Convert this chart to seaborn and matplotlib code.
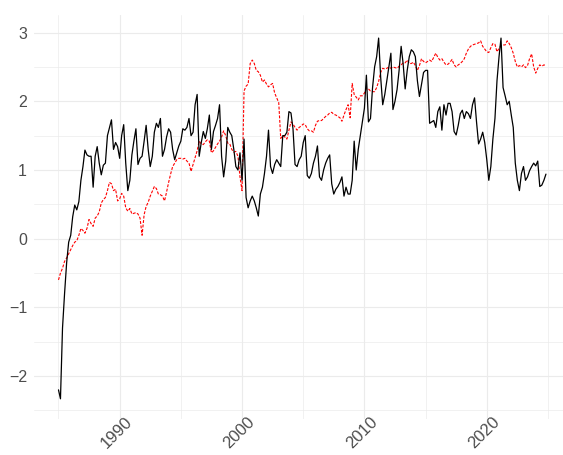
import matplotlib
matplotlib.use("Agg")
import matplotlib.dates as mdates
import matplotlib.pyplot as plt
import matplotlib.transforms as mtransforms
import numpy as np
import pandas as pd
import seaborn as sns
from matplotlib.ticker import MultipleLocator

# bimonthly observations, Jan 1985 .. Nov 2024
START = "1985-01-01"

black_values = [
    # 1985-1989
    -2.20, -2.33, -1.30, -0.80, -0.35, -0.05,
    0.05, 0.32, 0.49, 0.42, 0.54, 0.85,
    1.05, 1.29, 1.22, 1.20, 1.20, 0.75,
    1.20, 1.34, 1.10, 0.93, 1.07, 1.10,
    1.50, 1.61, 1.73, 1.30, 1.40, 1.34,
    # 1990-1994
    1.17, 1.50, 1.66, 1.10, 0.70, 0.85,
    1.22, 1.42, 1.60, 1.08, 1.17, 1.20,
    1.42, 1.65, 1.30, 1.05, 1.20, 1.55,
    1.68, 1.62, 1.75, 1.20, 1.30, 1.48,
    1.60, 1.55, 1.30, 1.15, 1.25, 1.35,
    # 1995-1999
    1.42, 1.60, 1.58, 1.62, 1.75, 1.50,
    1.55, 1.95, 2.10, 1.20, 1.40, 1.56,
    1.46, 1.60, 1.80, 1.30, 1.56, 1.65,
    1.75, 1.95, 1.20, 0.90, 1.13, 1.62,
    1.55, 1.50, 1.30, 1.05, 1.00, 1.25,
    # 2000-2004
    0.85, 1.45, 0.60, 0.45, 0.55, 0.62,
    0.55, 0.45, 0.33, 0.65, 0.75, 0.95,
    1.20, 1.58, 1.05, 0.95, 1.08, 1.15,
    1.10, 1.05, 1.50, 1.50, 1.55, 1.85,
    1.83, 1.60, 1.08, 1.05, 1.15, 1.20,
    # 2005-2009
    1.40, 1.50, 0.92, 0.88, 0.95, 1.10,
    1.20, 1.35, 0.90, 0.85, 1.00, 1.10,
    1.17, 1.22, 0.80, 0.65, 0.72, 0.76,
    0.82, 0.90, 0.62, 0.75, 0.65, 0.65,
    0.85, 1.42, 1.00, 1.30, 1.50, 1.70,
    # 2010-2014
    1.90, 2.38, 1.70, 1.75, 2.20, 2.50,
    2.65, 2.92, 2.35, 1.95, 2.10, 2.30,
    2.50, 2.70, 1.88, 2.00, 2.17, 2.45,
    2.80, 2.55, 2.18, 2.45, 2.65, 2.75,
    2.72, 2.65, 2.30, 2.07, 2.25, 2.42,
    # 2015-2019
    2.45, 2.45, 1.68, 1.70, 1.72, 1.62,
    1.85, 1.92, 1.58, 1.95, 1.80, 1.97,
    1.97, 1.85, 1.56, 1.51, 1.65, 1.82,
    1.87, 1.75, 1.85, 1.82, 1.75, 1.95,
    2.05, 1.70, 1.38, 1.45, 1.55, 1.40,
    # 2020-2024
    1.15, 0.85, 1.05, 1.45, 1.75, 2.30,
    2.65, 2.92, 2.20, 2.08, 1.95, 2.00,
    1.80, 1.62, 1.10, 0.85, 0.70, 0.95,
    1.05, 0.85, 0.90, 0.99, 1.05, 1.10,
    1.06, 1.13, 0.76, 0.78, 0.85, 0.94,
]

red_values = [
    # 1985-1989
    -0.60, -0.50, -0.43, -0.33, -0.28, -0.22,
    -0.16, -0.10, -0.05, -0.03, 0.05, 0.15,
    0.12, 0.08, 0.15, 0.28, 0.22, 0.18,
    0.30, 0.33, 0.39, 0.52, 0.57, 0.60,
    0.70, 0.82, 0.80, 0.70, 0.72, 0.55,
    # 1990-1994
    0.58, 0.66, 0.62, 0.45, 0.40, 0.44,
    0.36, 0.37, 0.38, 0.36, 0.30, 0.05,
    0.35, 0.47, 0.53, 0.62, 0.69, 0.76,
    0.73, 0.65, 0.64, 0.62, 0.55, 0.68,
    0.82, 0.94, 1.05, 1.10, 1.15, 1.17,
    # 1995-1999
    1.17, 1.16, 1.17, 1.13, 1.10, 0.98,
    1.08, 1.18, 1.28, 1.42, 1.38, 1.37,
    1.41, 1.44, 1.42, 1.25, 1.28, 1.33,
    1.38, 1.42, 1.48, 1.57, 1.50, 1.39,
    1.38, 1.30, 1.26, 1.27, 1.20, 0.90,
    # 2000-2004
    0.70, 2.15, 2.22, 2.25, 2.55, 2.60,
    2.55, 2.45, 2.43, 2.38, 2.28, 2.31,
    2.25, 2.21, 2.24, 2.26, 2.12, 2.05,
    1.98, 1.46, 1.50, 1.48, 1.45, 1.58,
    1.70, 1.67, 1.62, 1.58, 1.62, 1.64,
    # 2005-2009
    1.67, 1.66, 1.60, 1.57, 1.57, 1.55,
    1.65, 1.71, 1.72, 1.72, 1.75, 1.78,
    1.80, 1.83, 1.84, 1.81, 1.80, 1.78,
    1.76, 1.71, 1.80, 1.88, 1.95, 1.76,
    2.26, 2.10, 2.06, 2.02, 2.08, 2.08,
    # 2010-2014
    2.12, 2.19, 2.18, 2.15, 2.14, 2.14,
    2.20, 2.29, 2.42, 2.48, 2.47, 2.48,
    2.50, 2.48, 2.50, 2.49, 2.48, 2.51,
    2.53, 2.56, 2.56, 2.60, 2.55, 2.55,
    2.57, 2.52, 2.45, 2.52, 2.62, 2.58,
    # 2015-2019
    2.56, 2.58, 2.60, 2.58, 2.64, 2.70,
    2.64, 2.60, 2.62, 2.57, 2.53, 2.54,
    2.57, 2.61, 2.53, 2.50, 2.53, 2.55,
    2.58, 2.62, 2.70, 2.76, 2.80, 2.82,
    2.83, 2.84, 2.85, 2.88, 2.80, 2.76,
    # 2020-2024
    2.72, 2.71, 2.78, 2.84, 2.83, 2.72,
    2.77, 2.81, 2.82, 2.82, 2.88, 2.84,
    2.78, 2.70, 2.58, 2.50, 2.52, 2.50,
    2.53, 2.49, 2.52, 2.62, 2.69, 2.50,
    2.41, 2.48, 2.53, 2.51, 2.53, 2.52,
]

dates = pd.date_range(START, periods=len(black_values), freq="2MS")
df = pd.DataFrame({"date": dates, "black": black_values, "red": red_values})

sns.set_theme(style="white")
plt.rcParams["font.family"] = ["Liberation Sans", "DejaVu Sans"]

fig = plt.figure(figsize=(5.63, 4.55), dpi=100)
ax = fig.add_axes([34 / 563, 1 - 419 / 455, 1 - 34 / 563, 404 / 455])

sns.lineplot(data=df, x="date", y="red", color="red", linewidth=0.8,
             linestyle=(0, (2.6, 1.4)), estimator=None, ax=ax)
sns.lineplot(data=df, x="date", y="black", color="black", linewidth=0.9,
             estimator=None, ax=ax)

ax.set_xlim(pd.Timestamp("1983-01-01"), pd.Timestamp("2026-03-25"))
ax.set_ylim(-2.624, 3.256)

ax.xaxis.set_major_locator(mdates.YearLocator(10))
ax.xaxis.set_minor_locator(mdates.YearLocator(5))
ax.xaxis.set_major_formatter(mdates.DateFormatter("%Y"))
ax.yaxis.set_major_locator(MultipleLocator(1))
ax.yaxis.set_minor_locator(MultipleLocator(0.5))

ax.grid(which="major", color="#EBEBEB", linewidth=0.85)
ax.grid(which="minor", color="#EBEBEB", linewidth=0.5)
ax.set_axisbelow(True)
for s in ax.spines.values():
    s.set_visible(False)

ax.set_xlabel("")
ax.set_ylabel("")
ax.tick_params(which="both", length=0)
ax.tick_params(axis="y", labelsize=11.5, labelcolor="#4D4D4D", pad=5)
ax.tick_params(axis="x", labelsize=12, labelcolor="#4D4D4D", pad=0)

# rotated year labels, nudged so they sit just under the panel like ggplot's
shift = mtransforms.ScaledTranslation(0.05, 0.05, fig.dpi_scale_trans)
for lab in ax.get_xticklabels():
    lab.set_rotation(45)
    lab.set_ha("right")
    lab.set_va("top")
    lab.set_rotation_mode("anchor")
    lab.set_transform(lab.get_transform() + shift)

fig.savefig("out.png", dpi=100)
